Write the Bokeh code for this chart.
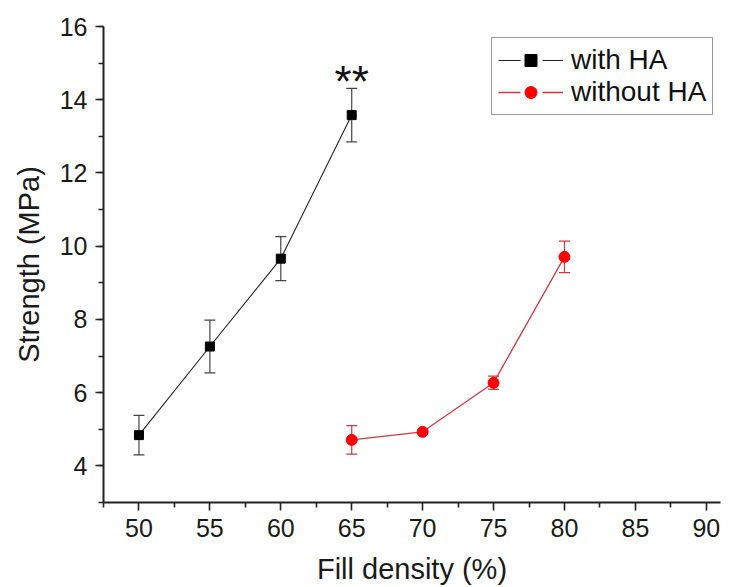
from bokeh.plotting import figure
from bokeh.models import (ColumnDataSource, Whisker, TeeHead, Legend, LegendItem,
                          FixedTicker, Range1d)
from bokeh.core.properties import value
from bokeh.embed import file_html
from bokeh.resources import INLINE

# data
x_ha = [50, 55, 60, 65]
y_ha = [4.84, 7.26, 9.66, 13.58]
e_ha = [0.54, 0.72, 0.60, 0.73]

x_noha = [65, 70, 75, 80]
y_noha = [4.71, 4.93, 6.27, 9.71]
e_noha = [0.39, 0.05, 0.18, 0.43]

x_ticks = [50, 55, 60, 65, 70, 75, 80, 85, 90]
y_ticks = [4, 6, 8, 10, 12, 14, 16]
sig_x = [65]
sig_y = [14.67]
sig_text = ["**"]

FONT = "Liberation Sans"
RED_LINE = "#cc3b45"
RED = "#ff0000"
NAN = float("nan")

p = figure(width=723, height=587, output_backend="svg", toolbar_location=None,
           x_range=Range1d(47.5, 91.0), y_range=Range1d(3, 16),
           min_border_left=103, min_border_right=3, min_border_top=26,
           min_border_bottom=85)
p.outline_line_color = None
p.xgrid.visible = False
p.ygrid.visible = False
p.background_fill_color = "white"

s1 = ColumnDataSource(dict(x=x_ha, y=y_ha,
                           lo=[a - b for a, b in zip(y_ha, e_ha)],
                           hi=[a + b for a, b in zip(y_ha, e_ha)]))
s2 = ColumnDataSource(dict(x=x_noha, y=y_noha,
                           lo=[a - b for a, b in zip(y_noha, e_noha)],
                           hi=[a + b for a, b in zip(y_noha, e_noha)]))

w1 = Whisker(source=s1, base="x", lower="lo", upper="hi", line_color="#444444",
             line_width=1.2,
             upper_head=TeeHead(size=11, line_color="#444444", line_width=1.2),
             lower_head=TeeHead(size=11, line_color="#444444", line_width=1.2))
w2 = Whisker(source=s2, base="x", lower="lo", upper="hi", line_color=RED_LINE,
             line_width=1.2,
             upper_head=TeeHead(size=11, line_color=RED_LINE, line_width=1.2),
             lower_head=TeeHead(size=11, line_color=RED_LINE, line_width=1.2))
p.add_layout(w1)
p.add_layout(w2)

p.line("x", "y", source=s1, line_color="#222222", line_width=1.1)
p.scatter("x", "y", source=s1, marker="square", size=9, fill_color="black",
          line_color="black")
p.line("x", "y", source=s2, line_color=RED_LINE, line_width=1.3)
p.scatter("x", "y", source=s2, marker="circle", size=11, fill_color=RED,
          line_color=RED)

p.text(x=sig_x, y=sig_y, text=sig_text, text_font=value(FONT),
       text_font_size="44px", text_align="center", text_baseline="middle",
       text_color="#111111", y_offset=6)

# legend (dummy renderers for the line-gap-marker-gap-line look)
l1 = p.line([NAN], [NAN], line_color="#222222", line_width=1.1, line_dash="22 22 21")
m1 = p.scatter([NAN], [NAN], marker="square", size=9, fill_color="black", line_color="black")
l2 = p.line([NAN], [NAN], line_color=RED_LINE, line_width=1.3, line_dash="22 22 21")
m2 = p.scatter([NAN], [NAN], marker="circle", size=11, fill_color=RED, line_color=RED)
legend = Legend(items=[LegendItem(label="with HA", renderers=[l1, m1]),
                       LegendItem(label="without HA", renderers=[l2, m2])],
                location=(388, 387), padding=6, spacing=0,
                label_height=30, glyph_height=30, glyph_width=65,
                label_standoff=8, label_text_font=FONT,
                label_text_font_size="28px", label_text_color="#111111",
                border_line_color="#333333", border_line_width=1.2,
                background_fill_alpha=1.0, margin=0)
p.add_layout(legend)

for ax in (p.xaxis[0], p.yaxis[0]):
    ax.axis_line_width = 2
    ax.axis_line_color = "#222222"
    ax.major_tick_line_color = "#222222"
    ax.minor_tick_line_color = "#222222"
    ax.major_tick_line_width = 1.6
    ax.minor_tick_line_width = 1.6
    ax.major_tick_in = 0
    ax.major_tick_out = 8
    ax.minor_tick_in = 0
    ax.minor_tick_out = 5
    ax.major_label_text_font = FONT
    ax.major_label_text_font_size = "25px"
    ax.major_label_text_color = "#1a1a1a"
    ax.axis_label_text_font = FONT
    ax.axis_label_text_font_size = "29px"
    ax.axis_label_text_font_style = "normal"
    ax.axis_label_text_color = "#1a1a1a"

p.xaxis.ticker = FixedTicker(ticks=x_ticks,
                             minor_ticks=[47.5 + 5 * i for i in range(10)])
p.yaxis.ticker = FixedTicker(ticks=y_ticks, minor_ticks=[3 + i for i in range(14)])
p.xaxis.axis_label = "Fill density (%)"
p.yaxis.axis_label = "Strength (MPa)"
p.xaxis.major_label_standoff = 8
p.yaxis.major_label_standoff = 8
p.xaxis.axis_label_standoff = 13
p.yaxis.axis_label_standoff = 12

open("out.html", "w").write(file_html(p, INLINE))
